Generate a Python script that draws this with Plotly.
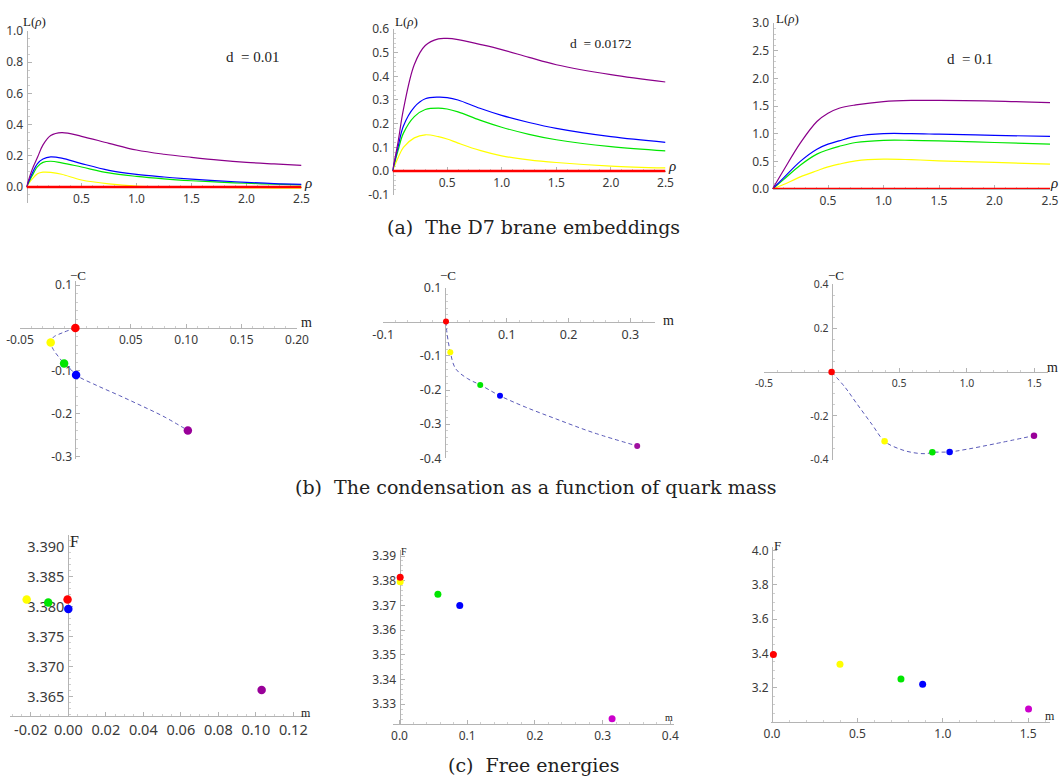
import plotly.graph_objects as go

W, H = 1059, 778

# ---------------- DATA ----------------
C_PUR, C_BLU, C_GRN, C_YEL, C_RED = "#8b008b", "#0000ff", "#00e600", "#ffff00", "#ff0000"

# (a) D7 brane embeddings  L(rho)
rho_a1 = [0, 0.05, 0.1, 0.15, 0.22, 0.32, 0.5, 0.75, 1.0, 1.25, 1.5, 1.75, 2.0, 2.25, 2.5]
a1_purple = [0, 0.11, 0.19, 0.27, 0.33, 0.349, 0.325, 0.28, 0.237, 0.21, 0.19, 0.172, 0.158, 0.148, 0.139]
a1_blue = [0, 0.085, 0.15, 0.18, 0.193, 0.185, 0.15, 0.107, 0.081, 0.064, 0.05, 0.039, 0.03, 0.022, 0.017]
a1_green = [0, 0.07, 0.13, 0.158, 0.165, 0.155, 0.128, 0.09, 0.068, 0.052, 0.04, 0.031, 0.024, 0.018, 0.013]
a1_yellow = [0, 0.05, 0.085, 0.095, 0.094, 0.082, 0.045, 0.02, 0.006, 0.002, -0.001, -0.003, -0.005, -0.007, -0.008]
a1_red = [0, 0, 0, 0, 0, 0, 0, 0, 0, 0, 0, 0, 0, 0, 0]

rho_a2 = [0, 0.05, 0.1, 0.2, 0.3, 0.42, 0.5, 0.6, 0.8, 1.0, 1.25, 1.5, 2.0, 2.5]
a2_purple = [0, 0.12, 0.26, 0.45, 0.53, 0.558, 0.56, 0.555, 0.535, 0.513, 0.48, 0.449, 0.407, 0.376]
a2_blue = [0, 0.1, 0.19, 0.27, 0.305, 0.312, 0.31, 0.3, 0.265, 0.235, 0.205, 0.18, 0.145, 0.121]
a2_green = [0, 0.085, 0.16, 0.23, 0.26, 0.266, 0.262, 0.25, 0.215, 0.185, 0.155, 0.132, 0.103, 0.085]
a2_yellow = [0, 0.055, 0.1, 0.14, 0.153, 0.145, 0.135, 0.118, 0.087, 0.064, 0.047, 0.036, 0.021, 0.013]
a2_red = [0, 0, 0, 0, 0, 0, 0, 0, 0, 0, 0, 0, 0, 0]

rho_a3 = [0, 0.1, 0.25, 0.4, 0.5, 0.6, 0.75, 1.0, 1.25, 1.5, 2.0, 2.5]
a3_purple = [0, 0.34, 0.83, 1.22, 1.37, 1.46, 1.52, 1.58, 1.6, 1.6, 1.59, 1.56]
a3_blue = [0, 0.2, 0.5, 0.72, 0.81, 0.87, 0.95, 1.0, 1.0, 0.99, 0.97, 0.95]
a3_green = [0, 0.17, 0.43, 0.63, 0.71, 0.77, 0.84, 0.88, 0.88, 0.87, 0.84, 0.81]
a3_yellow = [0, 0.08, 0.22, 0.33, 0.4, 0.45, 0.51, 0.54, 0.53, 0.51, 0.48, 0.45]
a3_red = [0, 0, 0, 0, 0, 0, 0, 0, 0, 0, 0, 0]

# (b) condensation -C vs quark mass m  (dashed curve + coloured points)
b1_curve_m = [0, -0.012, -0.02, -0.0223, -0.02, -0.015, -0.0102, -0.004, 0.0006, 0.02, 0.04, 0.06, 0.08, 0.1015]
b1_curve_c = [0, -0.0117, -0.022, -0.034, -0.05, -0.068, -0.083, -0.097, -0.110, -0.135, -0.158, -0.182, -0.207, -0.239]
b1_pts_m = [0, -0.0223, -0.0102, 0.0006, 0.1015]
b1_pts_c = [0, -0.0342, -0.0831, -0.110, -0.239]

b2_curve_m = [0.0016, 0.003, 0.0055, 0.0086, 0.017, 0.036, 0.057, 0.089, 0.13, 0.18, 0.24, 0.311]
b2_curve_c = [0.001, -0.03, -0.06, -0.089, -0.137, -0.166, -0.185, -0.217, -0.25, -0.285, -0.325, -0.364]
b2_pts_m = [0.0016, 0.0086, 0.057, 0.089, 0.311]
b2_pts_c = [0.001, -0.089, -0.185, -0.217, -0.364]

b3_curve_m = [0, 0.1, 0.185, 0.3, 0.392, 0.5, 0.6, 0.7, 0.745, 0.873, 1.0, 1.2, 1.497]
b3_curve_c = [0, -0.07, -0.143, -0.24, -0.316, -0.35, -0.367, -0.372, -0.366, -0.364, -0.352, -0.328, -0.29]
b3_pts_m = [0, 0.392, 0.745, 0.873, 1.497]
b3_pts_c = [0, -0.316, -0.366, -0.364, -0.29]

# (c) free energies F vs m
c1_m = [-0.0222, -0.0107, -0.0004, 0.0, 0.1031]
c1_F = [3.3812, 3.3807, 3.3812, 3.3796, 3.3661]
c1_colors = [C_YEL, C_GRN, C_RED, C_BLU, "#990099"]

c2_m = [0.001, 0.0567, 0.089, 0.314, 0.001]
c2_F = [3.3796, 3.3745, 3.3700, 3.3241, 3.3814]
c2_colors = [C_YEL, C_GRN, C_BLU, "#cc00cc", C_RED]

c3_m = [0.008, 0.398, 0.755, 0.882, 1.502]
c3_F = [3.393, 3.336, 3.250, 3.219, 3.075]
c3_colors = [C_RED, C_YEL, C_GRN, C_BLU, "#cc00cc"]

# tick labels
a1_xt = [0.5, 1.0, 1.5, 2.0, 2.5]; a1_xl = ["0.5", "1.0", "1.5", "2.0", "2.5"]
a1_yt = [0, 0.2, 0.4, 0.6, 0.8, 1.0]; a1_yl = ["0.0", "0.2", "0.4", "0.6", "0.8", "1.0"]
a2_xt = [0.5, 1.0, 1.5, 2.0, 2.5]; a2_xl = ["0.5", "1.0", "1.5", "2.0", "2.5"]
a2_yt = [-0.1, 0, 0.1, 0.2, 0.3, 0.4, 0.5, 0.6]; a2_yl = ["-0.1", "0.0", "0.1", "0.2", "0.3", "0.4", "0.5", "0.6"]
a3_xt = [0.5, 1.0, 1.5, 2.0, 2.5]; a3_xl = ["0.5", "1.0", "1.5", "2.0", "2.5"]
a3_yt = [0, 0.5, 1.0, 1.5, 2.0, 2.5, 3.0]; a3_yl = ["0.0", "0.5", "1.0", "1.5", "2.0", "2.5", "3.0"]
b1_xt = [-0.05, 0.05, 0.10, 0.15, 0.20]; b1_xl = ["-0.05", "0.05", "0.10", "0.15", "0.20"]
b1_yt = [0.1, -0.1, -0.2, -0.3]; b1_yl = ["0.1", "-0.1", "-0.2", "-0.3"]
b2_xt = [-0.1, 0.1, 0.2, 0.3]; b2_xl = ["-0.1", "0.1", "0.2", "0.3"]
b2_yt = [0.1, -0.1, -0.2, -0.3, -0.4]; b2_yl = ["0.1", "-0.1", "-0.2", "-0.3", "-0.4"]
b3_xt = [-0.5, 0.5, 1.0, 1.5]; b3_xl = ["-0.5", "0.5", "1.0", "1.5"]
b3_yt = [0.4, 0.2, -0.2, -0.4]; b3_yl = ["0.4", "0.2", "-0.2", "-0.4"]
c1_xt = [-0.02, 0, 0.02, 0.04, 0.06, 0.08, 0.10, 0.12]
c1_xl = ["-0.02", "0.00", "0.02", "0.04", "0.06", "0.08", "0.10", "0.12"]
c1_yt = [3.365, 3.370, 3.375, 3.380, 3.385, 3.390]
c1_yl = ["3.365", "3.370", "3.375", "3.380", "3.385", "3.390"]
c2_xt = [0, 0.1, 0.2, 0.3, 0.4]; c2_xl = ["0.0", "0.1", "0.2", "0.3", "0.4"]
c2_yt = [3.33, 3.34, 3.35, 3.36, 3.37, 3.38, 3.39]
c2_yl = ["3.33", "3.34", "3.35", "3.36", "3.37", "3.38", "3.39"]
c3_xt = [0, 0.5, 1.0, 1.5]; c3_xl = ["0.0", "0.5", "1.0", "1.5"]
c3_yt = [3.2, 3.4, 3.6, 3.8, 4.0]; c3_yl = ["3.2", "3.4", "3.6", "3.8", "4.0"]

# ---------------- LAYOUT (pixel geometry of each panel) ----------------
# xo: pixel x of data x=0, xs: px per unit; yo: pixel y of data value yref, ys: px per unit
panels = [
    dict(xo=26.5, xs=110, yref=0, yo=187, ys=156, xr=[0, 2.5], yr=[-0.1, 1.0], ycross=0,
         xt=a1_xt, xl=a1_xl, yt=a1_yt, yl=a1_yl, xm=0.1, ym=0.05, fs=12),
    dict(xo=392.5, xs=109.2, yref=0, yo=171, ys=236.7, xr=[0, 2.5], yr=[-0.1, 0.6], ycross=0,
         xt=a2_xt, xl=a2_xl, yt=a2_yt, yl=a2_yl, xm=0.1, ym=0.02, fs=12),
    dict(xo=772.5, xs=111, yref=0, yo=189, ys=55.33, xr=[0, 2.5], yr=[0, 3.0], ycross=0,
         xt=a3_xt, xl=a3_xl, yt=a3_yt, yl=a3_yl, xm=0.1, ym=0.1, fs=12),
    dict(xo=75.4, xs=1108, yref=0, yo=327.9, ys=429, xr=[-0.05, 0.2], yr=[-0.305, 0.11], ycross=0,
         xt=b1_xt, xl=b1_xl, yt=b1_yt, yl=b1_yl, xm=0.01, ym=0.02, fs=12),
    dict(xo=445, xs=618, yref=0, yo=321.8, ys=341, xr=[-0.1, 0.34], yr=[-0.4, 0.1], ycross=0,
         xt=b2_xt, xl=b2_xl, yt=b2_yt, yl=b2_yl, xm=0.02, ym=0.02, fs=12.5),
    dict(xo=831.6, xs=135.2, yref=0, yo=372, ys=219.5, xr=[-0.5, 1.6], yr=[-0.4, 0.4], ycross=0,
         xt=b3_xt, xl=b3_xl, yt=b3_yt, yl=b3_yl, xm=0.1, ym=0.05, fs=10.5),
    dict(xo=68.3, xs=1875, yref=3.39, yo=546.7, ys=6000, xr=[-0.031, 0.129], yr=[3.3618, 3.392], ycross=3.3618,
         xt=c1_xt, xl=c1_xl, yt=c1_yt, yl=c1_yl, xm=0.005, ym=0.001, fs=14.5),
    dict(xo=399.5, xs=677, yref=3.39, yo=556, ys=2470, xr=[-0.009, 0.405], yr=[3.3220, 3.3924], ycross=3.3220,
         xt=c2_xt, xl=c2_xl, yt=c2_yt, yl=c2_yl, xm=0.02, ym=0.002, fs=12),
    dict(xo=772, xs=170.8, yref=4.0, yo=550.7, ys=171, xr=[-0.005, 1.625], yr=[3.0, 4.02], ycross=3.0,
         xt=c3_xt, xl=c3_xl, yt=c3_yt, yl=c3_yl, xm=0.1, ym=0.05, fs=12),
]

AXCOL = "#b4b4b4"
TICKFONT = "Noto Sans"
layout = dict(width=W, height=H, margin=dict(l=0, r=0, t=0, b=0, autoexpand=False),
              paper_bgcolor="white", plot_bgcolor="white", showlegend=False)

for i, p in enumerate(panels, start=1):
    def xpx(v, p=p):
        return p["xo"] + p["xs"] * v
    def ypx(v, p=p):
        return p["yo"] - p["ys"] * (v - p["yref"])
    xd = [xpx(p["xr"][0]) / W, xpx(p["xr"][1]) / W]
    yd = [1 - ypx(p["yr"][0]) / H, 1 - ypx(p["yr"][1]) / H]
    sfx = "" if i == 1 else str(i)
    common = dict(
        showgrid=False, zeroline=False, showline=True, linecolor=AXCOL, linewidth=1,
        tickmode="array", ticks="inside", ticklen=4, tickcolor=AXCOL, tickwidth=1,
        tickfont=dict(family=TICKFONT, size=p["fs"], color="#3a3a3a"), ticklabelstandoff=1,
        fixedrange=True, automargin=False, layer="below traces",
    )
    layout["xaxis" + sfx] = dict(
        domain=xd, range=p["xr"], anchor="free", position=1 - ypx(p["ycross"]) / H,
        tickvals=p["xt"], ticktext=p["xl"],
        minor=dict(ticks="inside", ticklen=2, tickcolor="#cfcfcf", dtick=p["xm"], tick0=0, showgrid=False),
        **common,
    )
    layout["yaxis" + sfx] = dict(
        domain=yd, range=p["yr"], anchor="free", position=xpx(0) / W,
        tickvals=p["yt"], ticktext=p["yl"],
        minor=dict(ticks="inside", ticklen=2, tickcolor="#cfcfcf", dtick=p["ym"], tick0=0, showgrid=False),
        **common,
    )

fig = go.Figure(layout=layout)


def ax(i):
    return ("x" if i == 1 else "x%d" % i), ("y" if i == 1 else "y%d" % i)


def add_line(i, x, y, color, width=1.2, dash=None, shape="spline"):
    xa, ya = ax(i)
    fig.add_trace(go.Scatter(x=x, y=y, mode="lines", xaxis=xa, yaxis=ya, hoverinfo="skip", cliponaxis=False,
                             line=dict(color=color, width=width, dash=dash, shape=shape, smoothing=1.0)))


def add_pts(i, x, y, colors, size):
    xa, ya = ax(i)
    fig.add_trace(go.Scatter(x=x, y=y, mode="markers", xaxis=xa, yaxis=ya, hoverinfo="skip", cliponaxis=False,
                             marker=dict(color=colors, size=size, line=dict(width=0))))


# (a)
for i, rho, series in [
    (1, rho_a1, [a1_yellow, a1_green, a1_blue, a1_purple]),
    (2, rho_a2, [a2_yellow, a2_green, a2_blue, a2_purple]),
    (3, rho_a3, [a3_yellow, a3_green, a3_blue, a3_purple]),
]:
    for vals, col in zip(series, [C_YEL, C_GRN, C_BLU, C_PUR]):
        add_line(i, rho, vals, col)
add_line(1, rho_a1, a1_red, C_RED, width=2.4, shape="linear")
add_line(2, rho_a2, a2_red, C_RED, width=2.4, shape="linear")
add_line(3, rho_a3, a3_red, C_RED, width=2.4, shape="linear")

# (b)
DASHC = "#5a5ab8"
add_line(4, b1_curve_m, b1_curve_c, DASHC, width=1, dash="4px,3px")
add_pts(4, b1_pts_m, b1_pts_c, [C_RED, C_YEL, C_GRN, C_BLU, "#990099"], 8.5)
add_line(5, b2_curve_m, b2_curve_c, DASHC, width=1, dash="4px,3px")
add_pts(5, b2_pts_m, b2_pts_c, [C_RED, C_YEL, C_GRN, C_BLU, "#a0109f"], 6)
add_line(6, b3_curve_m, b3_curve_c, DASHC, width=1, dash="4px,3px")
add_pts(6, b3_pts_m, b3_pts_c, [C_RED, C_YEL, C_GRN, C_BLU, "#990099"], 6.5)

# (c)
add_pts(7, c1_m, c1_F, c1_colors, 8.5)
add_pts(8, c2_m, c2_F, c2_colors, 7)
add_pts(9, c3_m, c3_F, c3_colors, 7)

# ---------------- TEXT ----------------
SERIF = "Liberation Serif"


def label(text, xp, yp, size=13, family=SERIF, italic=False):
    if italic:
        text = "<i>%s</i>" % text
    fig.add_annotation(x=xp / W, y=1 - yp / H, xref="paper", yref="paper", text=text, showarrow=False,
                       font=dict(family=family, size=size, color="#222"), xanchor="center", yanchor="middle")


for xp, yp in [(34, 22), (406, 22), (787, 19)]:
    label("L(<i>ρ</i>)", xp, yp, 13)
for xp, yp in [(308, 183), (672, 166), (1054, 183)]:
    label("ρ", xp, yp, 15, italic=True)
label("d  = 0.01", 252, 57, 15)
label("d  = 0.0172", 601, 43, 13.5)
label("d  = 0.1", 970, 59, 15)
for xp, yp in [(78, 275), (448, 275), (836, 276)]:
    label("−C", xp, yp, 13)
for xp, yp in [(306, 323), (668, 320), (1052, 367)]:
    label("m", xp, yp, 14)
label("F", 74, 541, 16)
label("m", 306, 713, 12)
label("F", 404, 551, 10)
label("m", 669, 717, 10)
label("F", 777, 545, 13)
label("m", 1050, 716, 12)

CAP = "DejaVu Serif"
label("(a)  The D7 brane embeddings", 533, 227, 19, family=CAP)
label("(b)  The condensation as a function of quark mass", 536, 487, 19, family=CAP)
label("(c)  Free energies", 533, 765, 19, family=CAP)

fig.write_html(
    "out.html",
    config={"displayModeBar": False},
    post_script="document.body.style.margin='0';document.body.style.padding='0';"
                "document.body.style.overflow='hidden';",
)
